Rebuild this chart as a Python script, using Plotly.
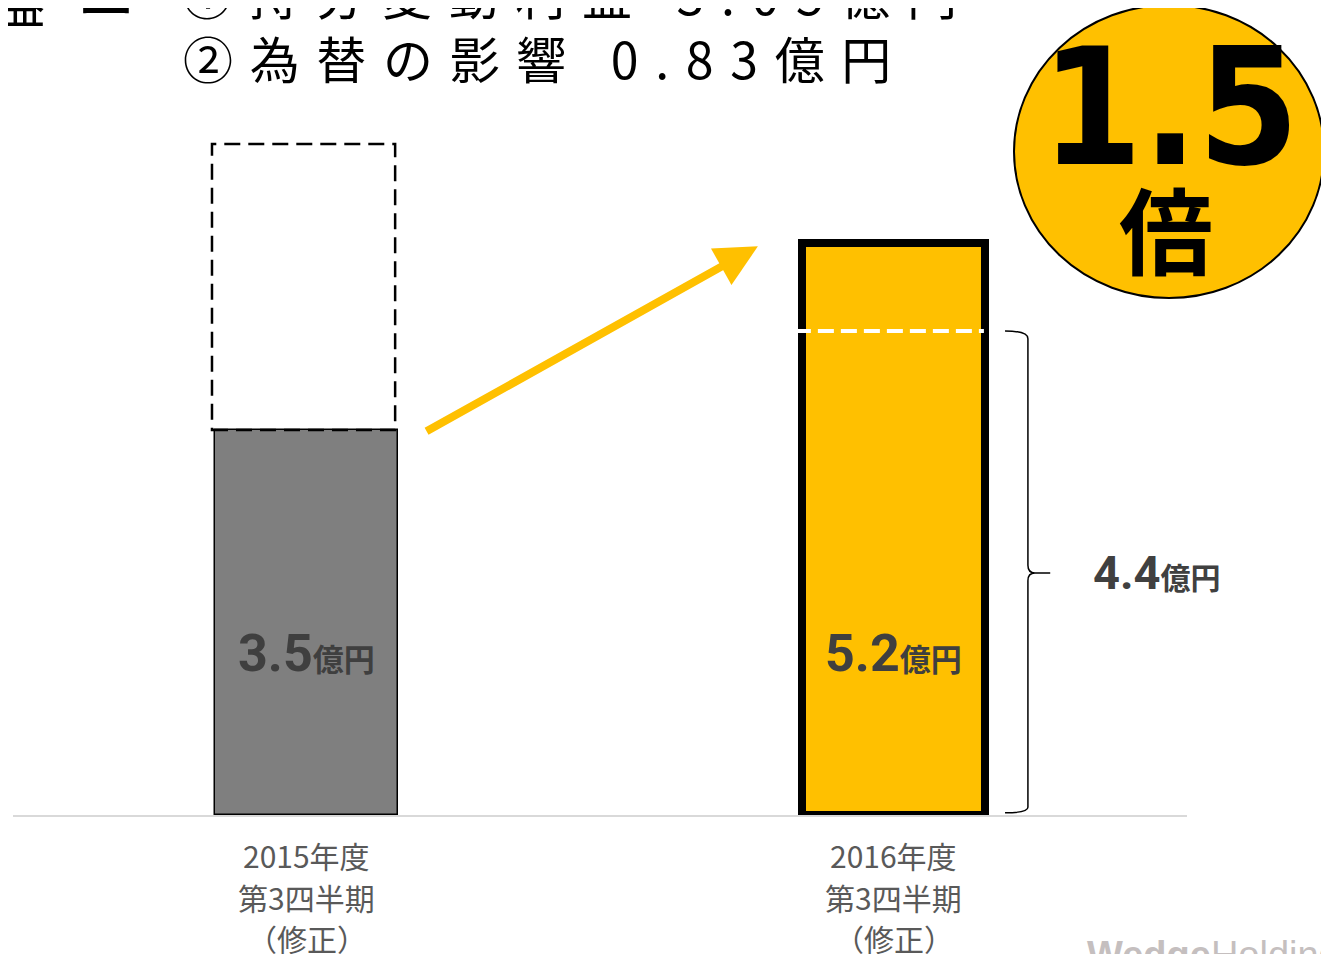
import plotly.graph_objects as go

# ---- data ----
categories = ["2015年度", "2016年度"]
category_line2 = ["第3四半期", "第3四半期"]
category_line3 = ["（修正）", "（修正）"]
values = [3.5, 5.2]
value_labels = ["3.5", "5.2"]
bar_colors = ["#7F7F7F", "#FFC000"]
bar_line_widths = [1.5, 8]
dashed_box_top = 6.1          # dashed outline above the 2015 bar
split_value = 4.4             # white dashed line inside the 2016 bar
split_label = "4.4"
ratio_label = "1.5"
note_line1 = "①持分変動利益 3.05億円"
note_line2 = "②為替の影響 0.83億円"

# page has an 8px body margin; screen coordinates below are compensated
OFF = 8
W, H = 1329, 954 - OFF
BASE = 815                     # screen y of baseline
LEFT, RIGHT = 13, 1187         # screen x of plot area
L = LEFT - OFF
plot_w = RIGHT - LEFT
R = W - L - plot_w
T = 0
B = H - (BASE - OFF)
plot_h = H - T - B
PX_PER_UNIT = 110.0
y_max = plot_h / PX_PER_UNIT
bar_w = 0.312

def px_x(px):
    return (px - LEFT) / plot_w

def px_y(py):
    return (BASE - py) / plot_h

def spaced(s, sp="\u2004"):
    return sp.join(list(s))

fig = go.Figure()
fig.add_trace(go.Bar(
    x=[0, 1], y=values, width=bar_w,
    marker=dict(color=bar_colors, line=dict(color="#000000", width=bar_line_widths)),
    hoverinfo="skip", showlegend=False,
))

shapes = []
shapes.append(dict(type="rect", xref="x", yref="y",
                   x0=0 - bar_w / 2 - 0.005, x1=0 + bar_w / 2 - 0.005,
                   y0=values[0], y1=dashed_box_top,
                   line=dict(color="#000000", width=2.5, dash="16px,8px"),
                   fillcolor="rgba(0,0,0,0)", layer="above"))
shapes.append(dict(type="line", xref="x", yref="y",
                   x0=1 - bar_w / 2 - 0.012, x1=1 + bar_w / 2 - 0.002,
                   y0=split_value, y1=split_value,
                   line=dict(color="#FFFFFF", width=4, dash="16px,7px"), layer="above"))
bx0, bx1, btip = 1.19, 1.229, 1.267
ym = split_value / 2
path = (f"M {bx0},{split_value} Q {bx1},{split_value} {bx1},{split_value-0.07} "
        f"L {bx1},{ym+0.07} Q {bx1},{ym} {bx1+0.012},{ym} L {btip},{ym} "
        f"M {bx1+0.012},{ym} Q {bx1},{ym} {bx1},{ym-0.07} "
        f"L {bx1},{0.07} Q {bx1},{0.02} {bx0},{0.02}")
shapes.append(dict(type="path", xref="x", yref="y", path=path,
                   line=dict(color="#000000", width=1.5)))
shapes.append(dict(type="circle", xref="paper", yref="paper",
                   x0=px_x(1014), x1=px_x(1324), y0=px_y(298), y1=px_y(5),
                   fillcolor="#FFC000", line=dict(color="#000000", width=2)))

ann = []
ann.append(dict(x=0.769, y=5.17, ax=0.202, ay=3.48, xref="x", yref="y",
                axref="x", ayref="y", text="", showarrow=True,
                arrowhead=2, arrowsize=1.05, arrowwidth=8, arrowcolor="#FFC000"))
for i, v in enumerate(value_labels):
    ann.append(dict(x=i, y=1.47, xref="x", yref="y", showarrow=False,
                    xanchor="center", yanchor="middle",
                    text=f"<b>{v}</b><b><span style='font-size:31px'>億円</span></b>",
                    font=dict(family="Roboto, Noto Sans CJK JP", size=52, color="#3F3F3F")))
ann.append(dict(x=px_x(1157), y=px_y(572), xref="paper", yref="paper", showarrow=False,
                xanchor="center", yanchor="middle",
                text=f"<b>{split_label}</b><b><span style='font-size:30px'>億円</span></b>",
                font=dict(family="Roboto, Noto Sans CJK JP", size=47, color="#404040")))
ann.append(dict(x=px_x(1170), y=px_y(108), xref="paper", yref="paper", showarrow=False,
                xanchor="center", yanchor="middle", text=f"<b>{ratio_label}</b>",
                font=dict(family="DejaVu Sans Condensed, Liberation Sans", size=162,
                          color="#000000")))
ann.append(dict(x=px_x(1166), y=px_y(227), xref="paper", yref="paper", showarrow=False,
                xanchor="center", yanchor="middle", text="<b>倍</b>",
                font=dict(family="Noto Sans CJK JP", size=94, color="#000000")))
# top notes
ann.append(dict(x=px_x(180), y=px_y(-7), xref="paper", yref="paper", showarrow=False,
                xanchor="left", yanchor="middle", text=spaced(note_line1),
                font=dict(family="Noto Sans CJK JP", size=50, color="#000000")))
ann.append(dict(x=px_x(181), y=px_y(57), xref="paper", yref="paper", showarrow=False,
                xanchor="left", yanchor="middle", text=spaced(note_line2),
                font=dict(family="Noto Sans CJK JP", size=50, color="#000000")))
ann.append(dict(x=px_x(20), y=px_y(1), xref="paper", yref="paper", showarrow=False,
                xanchor="center", yanchor="middle", text="益",
                font=dict(family="Noto Sans CJK JP", size=50, color="#000000")))
ann.append(dict(x=px_x(106), y=px_y(5), xref="paper", yref="paper", showarrow=False,
                xanchor="center", yanchor="middle", text="<b>ー</b>",
                font=dict(family="Noto Sans CJK JP", size=56, color="#000000")))
# category labels (3 lines each)
for i in range(len(categories)):
    for txt, py in ((categories[i], 855), (category_line2[i], 897), (category_line3[i], 938)):
        ann.append(dict(x=i, y=px_y(py), xref="x", yref="paper", showarrow=False,
                        xanchor="center", yanchor="middle", text=txt,
                        font=dict(family="Noto Sans CJK JP", size=30, color="#595959")))
# watermark
ann.append(dict(x=px_x(1085), y=px_y(932), xref="paper", yref="paper", showarrow=False,
                xanchor="left", yanchor="top", text="<b>Wedge</b>Holdings",
                font=dict(family="Liberation Sans", size=38, color="#C5BFBF")))

fig.update_layout(
    width=W, height=H,
    margin=dict(l=L, r=R, t=T, b=B, pad=0),
    paper_bgcolor="#FFFFFF", plot_bgcolor="#FFFFFF",
    shapes=shapes, annotations=ann, bargap=0,
    xaxis=dict(range=[-0.5, 1.5], tickvals=[0, 1], ticktext=["", ""],
               showgrid=False, zeroline=False, showline=True, linecolor="#D9D9D9",
               linewidth=2, ticks="", fixedrange=True),
    yaxis=dict(range=[0, y_max], visible=False, fixedrange=True),
    showlegend=False,
)

fig.write_html("out.html")
